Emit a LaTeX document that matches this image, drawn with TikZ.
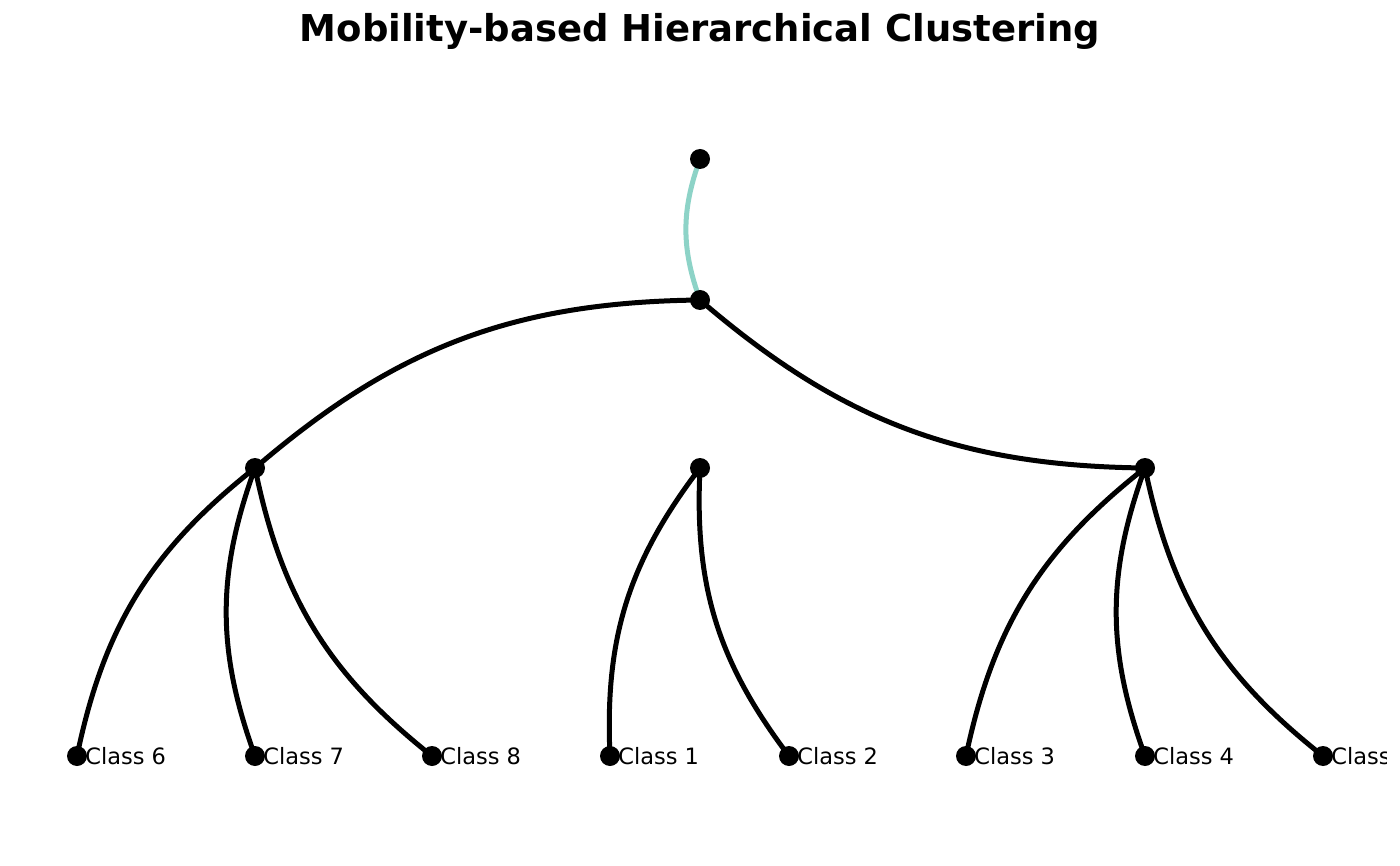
\documentclass[tikz,border=0pt]{standalone}
\usepackage{fontspec}
\setmainfont{DejaVu Sans}
\usetikzlibrary{backgrounds}
\definecolor{tealedge}{HTML}{8DD3C7}
\tikzset{
  dot/.style={circle,fill=black,inner sep=0pt,minimum size=20pt},
  lab/.style={font=\fontsize{22.5}{26}\selectfont,inner sep=0pt,text=black},
  edge/.style={line width=5pt,black,bend right=20},
  tedge/.style={line width=5pt,tealedge,bend right=20},
}
\begin{document}
\begin{tikzpicture}[x=1pt,y=-1pt]
\useasboundingbox (0,0) rectangle (1400,866);
\node[font=\fontsize{37}{44}\selectfont\bfseries,anchor=base,inner sep=0pt] (title) at (700,42) {Mobility-based Hierarchical Clustering};
\begin{scope}
\clip (0,0) rectangle (1386,866);
\node[dot] (r) at (700,159) {};
\node[dot] (n1) at (700,300) {};
\node[dot] (a) at (255,468) {};
\node[dot] (b) at (700,468) {};
\node[dot] (c) at (1145,468) {};
\node[dot,label={[lab,label distance=-2pt]right:Class 6}] (c6) at (77,756) {};
\node[dot,label={[lab,label distance=-2pt]right:Class 7}] (c7) at (255,756) {};
\node[dot,label={[lab,label distance=-2pt]right:Class 8}] (c8) at (432,756) {};
\node[dot,label={[lab,label distance=-2pt]right:Class 1}] (c1) at (610,756) {};
\node[dot,label={[lab,label distance=-2pt]right:Class 2}] (c2) at (789,756) {};
\node[dot,label={[lab,label distance=-2pt]right:Class 3}] (c3) at (966,756) {};
\node[dot,label={[lab,label distance=-2pt]right:Class 4}] (c4) at (1145,756) {};
\node[dot,label={[lab,label distance=-2pt]right:Class 5}] (c5) at (1323,756) {};
\begin{scope}[on background layer]
\draw[tedge] (r.center) to (n1.center);
\draw[edge] (n1.center) to (a.center);
\draw[edge] (n1.center) to (c.center);
\draw[edge] (a.center) to (c6.center);
\draw[edge] (a.center) to (c7.center);
\draw[edge] (a.center) to (c8.center);
\draw[edge] (b.center) to (c1.center);
\draw[edge] (b.center) to (c2.center);
\draw[edge] (c.center) to (c3.center);
\draw[edge] (c.center) to (c4.center);
\draw[edge] (c.center) to (c5.center);
\end{scope}
\end{scope}
\end{tikzpicture}
\end{document}
